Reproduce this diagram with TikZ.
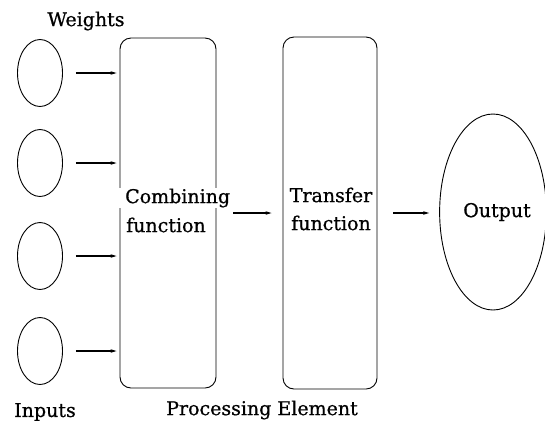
\documentclass[tikz,border=0pt]{standalone}
\usepackage{fontspec}
\setmainfont{DejaVu Serif}[FakeBold=0.7]
\usetikzlibrary{arrows.meta,shapes.geometric}
\begin{document}
\begin{tikzpicture}[x=1pt,y=-1pt,
  every node/.style={font=\fontsize{19}{28}\selectfont},
  inputcircle/.style={draw, ellipse, minimum width=45pt, minimum height=67pt, inner sep=0pt, line width=0.9pt},
  pebox/.style={draw, rounded corners=11pt, line width=0.9pt, inner sep=0pt},
  outcircle/.style={draw, ellipse, minimum width=100pt, minimum height=196pt, inner sep=0pt, line width=0.9pt},
  feed/.style={-{Stealth[length=6pt,width=3.5pt]}, line width=1.4pt},
  caption/.style={inner sep=0pt}]
\useasboundingbox (0,0) rectangle (545,424);

% input units
\node[inputcircle] (in1) at (40,73) {};
\node[inputcircle] (in2) at (40,163) {};
\node[inputcircle] (in3) at (40,256) {};
\node[inputcircle] (in4) at (40,351) {};

% processing element: combining and transfer stages
\node[pebox, minimum width=96pt, minimum height=350pt] (comb) at (168,213) {};
\node[pebox, minimum width=94pt, minimum height=352pt] (trans) at (330,213) {};

% output unit
\node[outcircle] (out) at (493,212) {\hspace*{8pt}Output};

% stage labels
\node[caption, anchor=west, fill=white, inner xsep=6pt, inner ysep=1pt] (combA) at (119,198) {Combining};
\node[caption, anchor=west] (combB) at (126,225) {function};
\node[caption, align=center] (transL) at (331,209) {Transfer\\function};

% picture captions
\node[caption] (wt) at (86,21) {Weights};
\node[caption] (inp) at (45,412) {Inputs};
\node[caption] (pe) at (262,410) {Processing Element};

% connections
\foreach \i in {1,...,4}
  \draw[feed, shorten <=13pt, shorten >=3pt] (in\i.east) -- (in\i.east -| comb.west);
\draw[feed, shorten <=17pt, shorten >=11pt] (comb.east) -- (trans.west);
\draw[feed, shorten <=16pt, shorten >=10pt] (trans.east) -- (trans.east -| out.west);
\end{tikzpicture}
\end{document}
